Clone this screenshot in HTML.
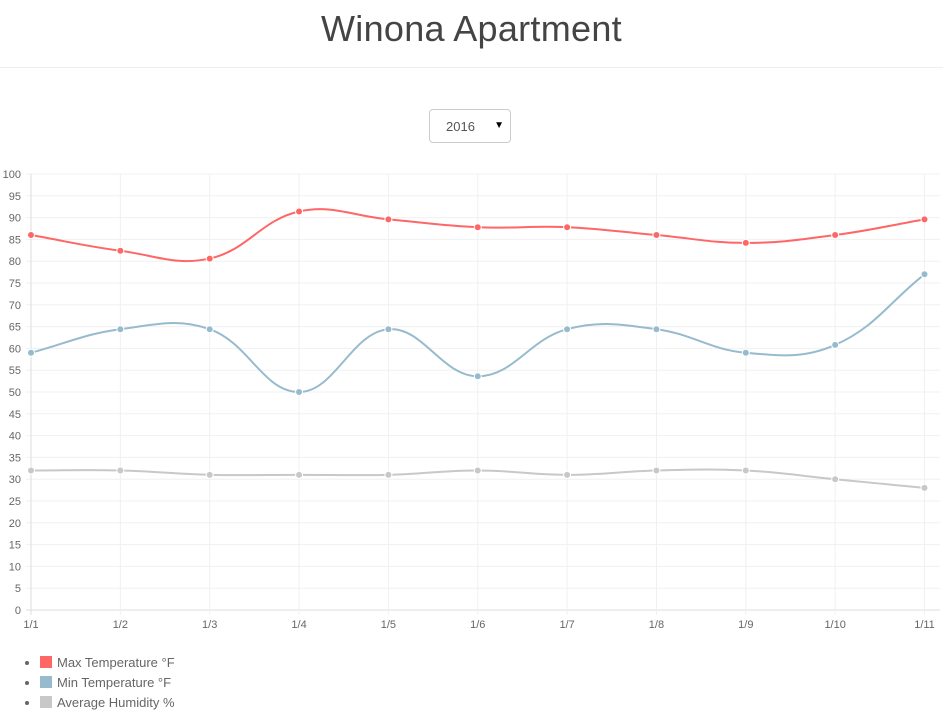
<!DOCTYPE html>
<html><head><meta charset="utf-8"><style>
body{margin:0;width:943px;height:711px;background:#fff;font-family:"Liberation Sans",sans-serif;overflow:hidden;position:relative}
h1{position:absolute;top:8px;left:0;width:943px;text-align:center;margin:0;font-weight:normal;font-size:36px;color:#444;letter-spacing:0.3px}
.hr{position:absolute;top:67px;left:0;width:943px;height:1px;background:#eee}
.sel{position:absolute;left:429px;top:109px;width:80px;height:32px;border:1px solid #ccc;border-radius:4px;font-size:13px;color:#555}
.sel span{position:absolute;left:16px;top:9px}
.sel i{position:absolute;right:6px;top:10px;font-style:normal;font-size:10px;color:#000}
ul{position:absolute;left:0;top:653px;margin:0;padding:0 0 0 40px;list-style:disc;font-size:13px;color:#666}
li{height:20px;line-height:20px}
li b{display:inline-block;width:12px;height:12px;vertical-align:-1px;margin-right:5px}
</style></head><body>
<h1>Winona Apartment</h1><div class="hr"></div>
<div class="sel"><span>2016</span><i>▼</i></div>
<svg id="c" width="943" height="650" style="position:absolute;left:0;top:0"></svg>
<ul><li><b style="background:#ff6666"></b>Max Temperature °F</li><li><b style="background:#97bbcd"></b>Min Temperature °F</li><li><b style="background:#c8c8c8"></b>Average Humidity %</li></ul>
<script>
var s='',x0=31,dx=89.35,y0=610,k=4.36;
function X(i){return x0+i*dx}function Y(v){return y0-v*k}
for(var v=0;v<=100;v+=5){var y=Y(v);s+='<line x1="26" x2="940" y1="'+y+'" y2="'+y+'" stroke="'+(v==0?'#ddd':'#f0f0f0')+'"/>';s+='<text x="21" y="'+(y+4)+'" text-anchor="end" font-size="11" fill="#666" font-family="Liberation Sans">'+v+'</text>'}
for(var i=0;i<11;i++){var x=X(i);s+='<line x1="'+x+'" x2="'+x+'" y1="174" y2="615" stroke="'+(i==0?'#ddd':'#f0f0f0')+'"/>';s+='<text x="'+x+'" y="628" text-anchor="middle" font-size="11" fill="#666" font-family="Liberation Sans">1/'+(i+1)+'</text>'}
function line(d,c){var p=d.map(function(v,i){return[X(i),Y(v)]}),t=0.4,path='M'+p[0][0]+','+p[0][1];
var cp=p.map(function(q,i){var a=p[Math.max(i-1,0)],b=p[Math.min(i+1,p.length-1)];var d01=Math.hypot(q[0]-a[0],q[1]-a[1]),d12=Math.hypot(b[0]-q[0],b[1]-q[1]);var fa=t*d01/(d01+d12||1),fb=t*d12/(d01+d12||1);return[[q[0]-fa*(b[0]-a[0]),q[1]-fa*(b[1]-a[1])],[q[0]+fb*(b[0]-a[0]),q[1]+fb*(b[1]-a[1])]]});
for(var i=1;i<p.length;i++)path+='C'+cp[i-1][1]+' '+cp[i][0]+' '+p[i];
s+='<path d="'+path+'" fill="none" stroke="'+c+'" stroke-width="2"/>';
p.forEach(function(q){s+='<circle cx="'+q[0]+'" cy="'+q[1]+'" r="3.5" fill="'+c+'" stroke="#fff" stroke-width="1"/>'})}
line([86,82.4,80.6,91.4,89.6,87.8,87.8,86,84.2,86,89.6],'#ff6666');
line([59,64.4,64.4,50,64.4,53.6,64.4,64.4,59,60.8,77],'#97bbcd');
line([32,32,31,31,31,32,31,32,32,30,28],'#c8c8c8');
document.getElementById('c').innerHTML=s;
</script>
</body></html>
